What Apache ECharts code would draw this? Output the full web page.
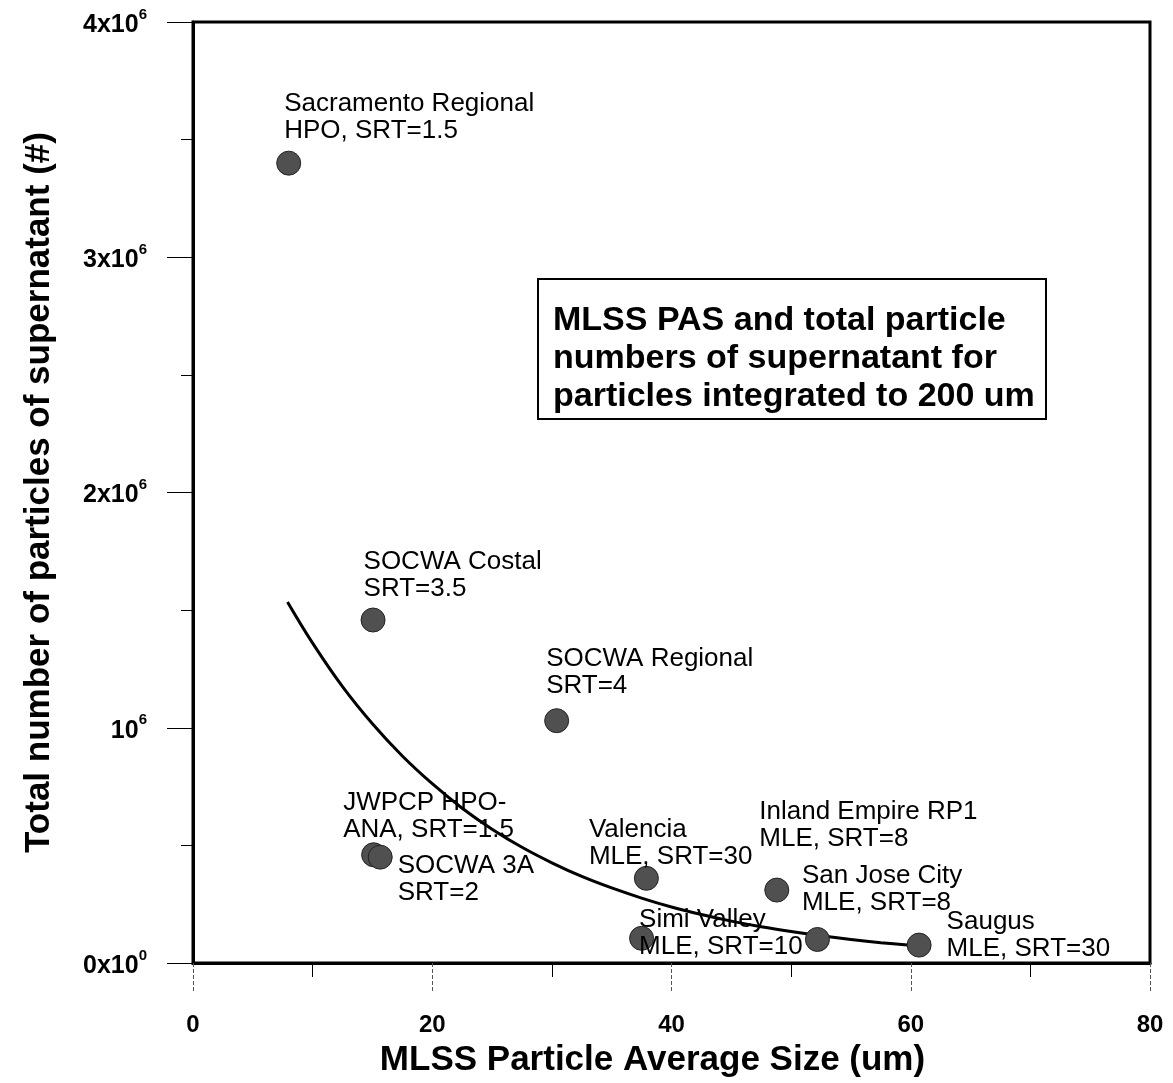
<!DOCTYPE html>
<html>
<head>
<meta charset="utf-8">
<script src="https://cdn.jsdelivr.net/npm/echarts@6/dist/echarts.min.js"></script>
<style>html,body{margin:0;padding:0;background:#fff}#c{width:1173px;height:1083px}</style>
</head>
<body>
<div id="c"></div>
<script>
// ---- data ----
const siteLabels = [
  'Sacramento Regional\nHPO, SRT=1.5',
  'SOCWA Costal\nSRT=3.5',
  'SOCWA Regional\nSRT=4',
  'JWPCP HPO-\nANA, SRT=1.5',
  'SOCWA 3A\nSRT=2',
  'Valencia\nMLE, SRT=30',
  'Simi Valley\nMLE, SRT=10',
  'Inland Empire RP1\nMLE, SRT=8',
  'San Jose City\nMLE, SRT=8',
  'Saugus\nMLE, SRT=30'
];
const avgSize = [8.0, 15.05, 30.4, 15.1, 15.65, 37.9, 37.5, 48.8, 52.2, 60.7];
const totalParticles = [3400000, 1458000, 1030000, 460000, 450000, 360000, 105000, 310000, 100000, 76000];

// trend curve
const trendX = [7.9, 10, 12.5, 15, 17.5, 20, 22.5, 25, 27.5, 30, 32.5, 35, 37.5, 40, 42.5, 45, 47.5, 50, 52.5, 55, 57.5, 60.7];
const trendY = [1535000, 1360000, 1175000, 1017000, 880000, 762000, 658000, 569000, 492000, 426000, 368000, 319000, 276000, 238000, 206000, 178000, 154000, 133500, 115500, 100000, 86500, 72000];

// tick labels
const yTickMain = ['0x10', '10', '2x10', '3x10', '4x10'];
const yTickSup = ['0', '6', '6', '6', '6'];
const xTickLabels = ['0', '20', '40', '60', '80'];

const boxText = 'MLSS PAS and total particle\nnumbers of supernatant for\nparticles integrated to 200 um';
const xTitle = 'MLSS Particle Average Size (um)';
const yTitle = 'Total number of particles of supernatant (#)';

// ---- layout (label offsets relative to symbol box) ----
const labelOffsets = [[8, -60], [3, -59], [2, -63], [-18, -53], [30, 8], [-45, -49], [10, -19], [-5, -79], [-3, -65], [40, -24]];

const FONT = '"Liberation Sans", Arial, Helvetica, sans-serif';
const chart = echarts.init(document.getElementById('c'), null, {renderer: 'canvas'});

const scatterData = avgSize.map((x, i) => ({
  value: [x, totalParticles[i]],
  name: siteLabels[i],
  label: {position: labelOffsets[i]}
}));
const trendData = trendX.map((x, i) => [x, trendY[i]]);

chart.setOption({
  animation: false,
  backgroundColor: '#fff',
  textStyle: {fontFamily: FONT},
  grid: {left: 193, right: 23, top: 22, bottom: 117, show: true, borderColor: '#000', borderWidth: 3, containLabel: false, backgroundColor: 'transparent'},
  xAxis: {
    type: 'value', min: 0, max: 80, interval: 20,
    axisLine: {show: true, onZero: false, lineStyle: {color: '#000', width: 3}},
    axisTick: {show: true, length: 30, lineStyle: {color: '#555', width: 1, type: 'dashed'}},
    minorTick: {show: true, splitNumber: 2, length: 14, lineStyle: {color: '#000', width: 1}},
    splitLine: {show: false}, minorSplitLine: {show: false},
    axisLabel: {fontSize: 24, fontWeight: 'bold', color: '#000', margin: 50, fontFamily: FONT,
      formatter: (v, i) => xTickLabels[i]},
    name: xTitle, nameLocation: 'middle', nameGap: 80,
    nameTextStyle: {fontSize: 35, fontWeight: 'bold', color: '#000', fontFamily: FONT, padding: [0, 38, 0, 0]}
  },
  yAxis: {
    type: 'value', min: 0, max: 4000000, interval: 1000000,
    axisLine: {show: true, onZero: false, lineStyle: {color: '#000', width: 3}},
    axisTick: {show: true, length: 26, lineStyle: {color: '#000', width: 1}},
    minorTick: {show: true, splitNumber: 2, length: 12, lineStyle: {color: '#000', width: 1}},
    splitLine: {show: false}, minorSplitLine: {show: false},
    axisLabel: {
      margin: 46, color: '#000',
      formatter: (v, i) => '{b|' + yTickMain[i] + '}{s|' + yTickSup[i] + '}',
      rich: {
        b: {fontSize: 25, fontWeight: 'bold', color: '#000', lineHeight: 30, padding: [6, 0, 0, 0], fontFamily: FONT},
        s: {fontSize: 15, fontWeight: 'bold', color: '#000', lineHeight: 15, verticalAlign: 'top', fontFamily: FONT}
      }
    },
    name: yTitle, nameLocation: 'middle', nameRotate: 90, nameGap: 136,
    nameTextStyle: {fontSize: 35, fontWeight: 'bold', color: '#000', fontFamily: FONT}
  },
  series: [
    {
      type: 'line', data: trendData, smooth: 0.4, showSymbol: false, symbol: 'none',
      lineStyle: {color: '#000', width: 3}, z: 2, silent: true
    },
    {
      type: 'scatter', data: scatterData, symbol: 'circle', symbolSize: 24, z: 3,
      itemStyle: {color: '#505050', borderColor: '#222', borderWidth: 1, opacity: 1},
      label: {
        show: true, formatter: p => p.name, align: 'left', verticalAlign: 'top',
        fontSize: 26, lineHeight: 27, color: '#000', fontFamily: FONT
      },
      labelLayout: {hideOverlap: false}
    }
  ],
  graphic: [
    {type: 'rect', left: 537, top: 278, z: 10,
      shape: {width: 508, height: 140},
      style: {fill: '#fff', stroke: '#000', lineWidth: 2}},
    {type: 'text', left: 553, top: 302, z: 11,
      style: {text: boxText, font: 'bold 34px ' + FONT, fill: '#000', lineHeight: 38}}
  ]
});
</script>
</body>
</html>
